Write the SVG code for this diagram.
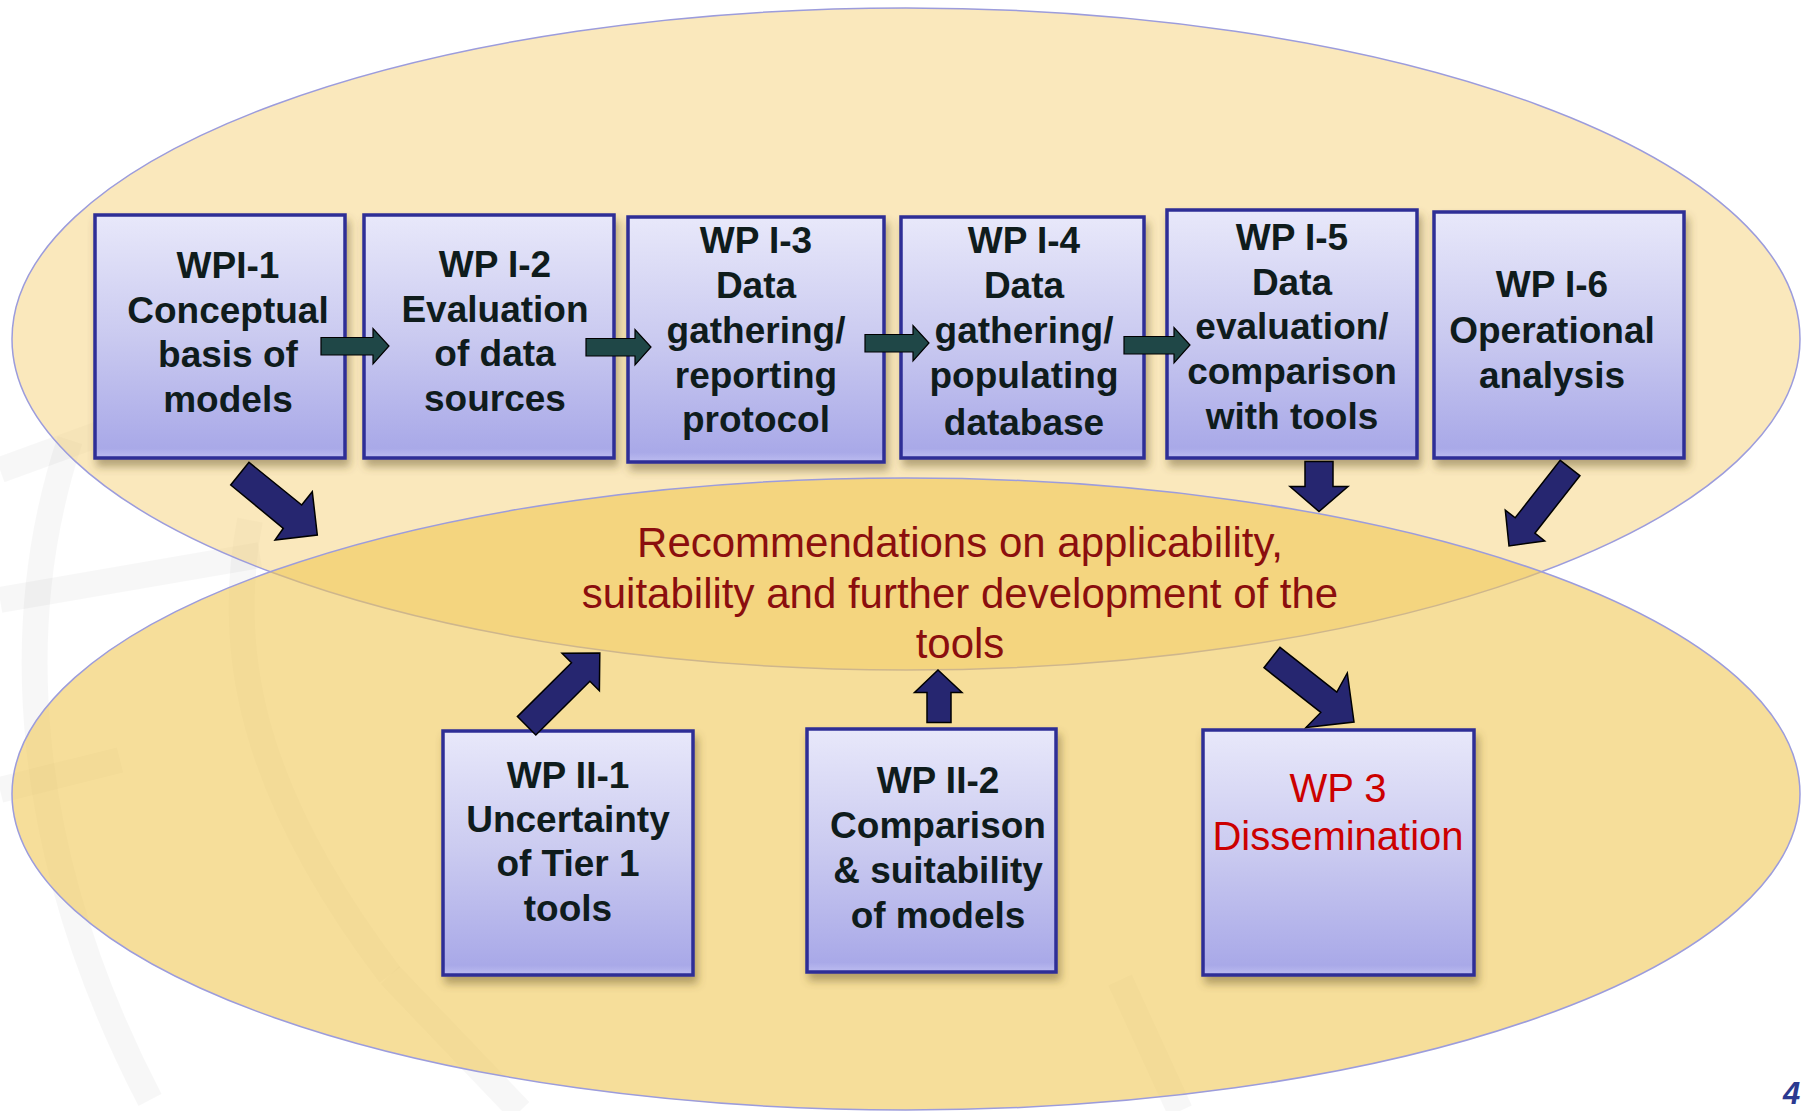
<svg xmlns="http://www.w3.org/2000/svg" width="1803" height="1111" viewBox="0 0 1803 1111">
  <style>
    .wm { fill: none; stroke: #000; stroke-opacity: 0.03; stroke-width: 26; }
    .box { stroke: #2e2e96; stroke-width: 3.5; fill: url(#boxGrad); filter: url(#shadow); }
    .lbl { font-family: "Liberation Sans", Arial, sans-serif; font-weight: bold; font-size: 37px; fill: #0f1c1c; text-anchor: middle; }
    .red { font-family: "Liberation Sans", Arial, sans-serif; font-size: 40px; fill: #cc0000; text-anchor: middle; }
    .rec { font-family: "Liberation Sans", Arial, sans-serif; font-size: 42px; fill: #8b0e0e; text-anchor: middle; }
    .harrow { fill: #1f4747; stroke: #000; stroke-width: 1.2; }
    .narrow { fill: #262670; stroke: #000; stroke-width: 1.5; }
    .ell { stroke: #9c9cdc; stroke-width: 1.5; }
  </style>
  <defs>
    <linearGradient id="boxGrad" x1="0" y1="0" x2="0" y2="1">
      <stop offset="0" stop-color="#e8e8fa"/>
      <stop offset="0.5" stop-color="#cacaf0"/>
      <stop offset="0.96" stop-color="#a9a9e8"/>
      <stop offset="1" stop-color="#bcbcf0"/>
    </linearGradient>
    <filter id="shadow" x="-10%" y="-10%" width="130%" height="130%">
      <feDropShadow dx="3" dy="7" stdDeviation="4" flood-color="#5e4e20" flood-opacity="0.45"/>
    </filter>
  </defs>
  <rect x="0" y="0" width="1803" height="1111" fill="#ffffff"/>
  <g id="watermark">
    <path class="wm" d="M 250 520 C 225 650 250 790 390 975"/>
    <path class="wm" d="M 70 440 C 10 620 20 850 150 1100"/>
    <path class="wm" d="M 0 600 L 260 555"/>
    <path class="wm" d="M 0 470 L 110 430"/>
    <path class="wm" d="M 0 790 L 120 760"/>
    <path class="wm" d="M 390 975 L 520 1111"/>
    <path class="wm" d="M 1120 980 L 1180 1111"/>
  </g>
  <g id="ellipses">
    <ellipse id="upper" class="ell" cx="906" cy="339" rx="894" ry="331" fill="#f5d27a" fill-opacity="0.5"/>
    <ellipse id="lower" class="ell" cx="906" cy="794" rx="894" ry="316" fill="#f0c857" fill-opacity="0.6"/>
  </g>
  <g id="recommendations">
    <text class="rec" x="960" y="557">Recommendations on applicability,</text>
    <text class="rec" x="960" y="608">suitability and further development of the</text>
    <text class="rec" x="960" y="658">tools</text>
  </g>
  <g id="wp1-1">
    <rect class="box" x="95" y="215" width="250" height="243"/>
    <text class="lbl" x="228"><tspan x="228" y="278">WPI-1</tspan><tspan x="228" y="323">Conceptual</tspan><tspan x="228" y="367">basis of</tspan><tspan x="228" y="412">models</tspan></text>
  </g>
  <g id="wp1-2">
    <rect class="box" x="364" y="215" width="250" height="243"/>
    <text class="lbl" x="495"><tspan x="495" y="277">WP I-2</tspan><tspan x="495" y="322">Evaluation</tspan><tspan x="495" y="366">of data</tspan><tspan x="495" y="411">sources</tspan></text>
  </g>
  <g id="wp1-3">
    <rect class="box" x="628" y="217" width="256" height="245"/>
    <text class="lbl" x="756"><tspan x="756" y="253">WP I-3</tspan><tspan x="756" y="298">Data</tspan><tspan x="756" y="343">gathering/</tspan><tspan x="756" y="388">reporting</tspan><tspan x="756" y="432">protocol</tspan></text>
  </g>
  <g id="wp1-4">
    <rect class="box" x="901" y="217" width="243" height="241"/>
    <text class="lbl" x="1024"><tspan x="1024" y="253">WP I-4</tspan><tspan x="1024" y="298">Data</tspan><tspan x="1024" y="343">gathering/</tspan><tspan x="1024" y="388">populating</tspan><tspan x="1024" y="435">database</tspan></text>
  </g>
  <g id="wp1-5">
    <rect class="box" x="1167" y="210" width="250" height="248"/>
    <text class="lbl" x="1292"><tspan x="1292" y="250">WP I-5</tspan><tspan x="1292" y="295">Data</tspan><tspan x="1292" y="339">evaluation/</tspan><tspan x="1292" y="384">comparison</tspan><tspan x="1292" y="429">with tools</tspan></text>
  </g>
  <g id="wp1-6">
    <rect class="box" x="1434" y="212" width="250" height="246"/>
    <text class="lbl" x="1552"><tspan x="1552" y="297">WP I-6</tspan><tspan x="1552" y="343">Operational</tspan><tspan x="1552" y="388">analysis</tspan></text>
  </g>
  <g id="wp2-1">
    <rect class="box" x="443" y="731" width="250" height="244"/>
    <text class="lbl" x="568"><tspan x="568" y="788">WP II-1</tspan><tspan x="568" y="832">Uncertainty</tspan><tspan x="568" y="876">of Tier 1</tspan><tspan x="568" y="921">tools</tspan></text>
  </g>
  <g id="wp2-2">
    <rect class="box" x="807" y="729" width="249" height="243"/>
    <text class="lbl" x="938"><tspan x="938" y="793">WP II-2</tspan><tspan x="938" y="838">Comparison</tspan><tspan x="938" y="883">&amp; suitability</tspan><tspan x="938" y="928">of models</tspan></text>
  </g>
  <g id="wp3">
    <rect class="box" x="1203" y="730" width="271" height="245"/>
    <text class="red" x="1338"><tspan x="1338" y="802">WP 3</tspan><tspan x="1338" y="850">Dissemination</tspan></text>
  </g>
  <g id="connectors">
    <polygon class="harrow" points="321,337.5 373,337.5 373,328.5 389,346 373,364 373,355 321,355"/>
    <polygon class="harrow" points="586,338.5 635,338.5 635,329.5 651,347 635,365 635,356 586,356"/>
    <polygon class="harrow" points="865,334.5 913,334.5 913,325.5 929,343 913,361 913,352 865,352"/>
    <polygon class="harrow" points="1124,336.5 1174,336.5 1174,327.5 1190,345 1174,363 1174,354 1124,354"/>
    <polygon class="narrow" points="249,462.3 230.7,485 283.3,528.3 275,540 317.3,535 312.3,491.7 301.7,505"/>
    <polygon class="narrow" points="1305,461.5 1333,461.5 1333,486.5 1348,486.5 1319,511.5 1290,486.5 1305,486.5"/>
    <polygon class="narrow" points="1579.9,475.7 1534.9,533.2 1544.7,540.9 1509,546 1505.3,510.1 1515.2,517.8 1560.2,460.3"/>
    <polygon class="narrow" points="535.8,735 589.9,681.2 599.4,690.8 599.8,653 562,653.2 571.5,662.8 517.4,716.6"/>
    <polygon class="narrow" points="927,722.5 951,722.5 951,692.5 962,692.5 938,670 914.5,692.5 927,692.5"/>
    <polygon class="narrow" points="1264,667.7 1320.8,712.4 1306,727.5 1354,722 1347.3,673 1336.8,692 1280,647.3"/>
  </g>
  <text x="1783" y="1104" font-family="'Liberation Sans', Arial, sans-serif" font-weight="bold" font-style="italic" font-size="31" fill="#2b3990">4</text>
</svg>
